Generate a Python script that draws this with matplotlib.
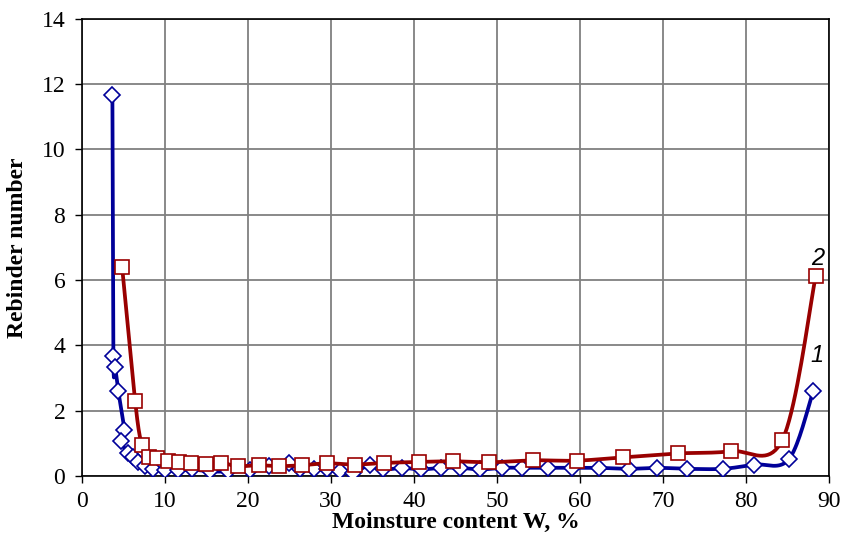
import numpy as np
import matplotlib
matplotlib.use("Agg")
import matplotlib.pyplot as plt

# Series 1 (blue diamonds)
w1 = [3.66, 3.78, 3.98, 4.38, 5.07, 4.67, 5.59, 6.19, 6.79, 7.6, 8.6, 10.0, 11.6, 13.2,
      15.4, 17.6, 20.3, 22.5, 24.9, 26.3, 27.9, 29.5, 31.1, 32.7, 34.7, 36.3, 38.6,
      40.8, 43.2, 45.6, 48.0, 50.6, 53.0, 56.2, 59.1, 62.3, 65.9, 69.3, 72.9, 77.2,
      81.0, 85.2, 88.1]
rb1 = [11.66, 3.68, 3.35, 2.59, 1.42, 1.06, 0.71, 0.58, 0.42, 0.32, 0.22, 0.17, 0.17, 0.20,
       0.14, 0.14, 0.17, 0.30, 0.40, 0.20, 0.20, 0.20, 0.14, 0.09, 0.35, 0.20, 0.25,
       0.20, 0.25, 0.25, 0.20, 0.25, 0.25, 0.25, 0.25, 0.25, 0.22, 0.25, 0.22, 0.22,
       0.35, 0.52, 2.59]

# Series 2 (red squares)
w2 = [4.83, 6.39, 7.2, 8.12, 9.08, 10.41, 11.7, 13.11, 14.92, 16.77, 18.85, 21.27, 23.68,
      26.5, 29.5, 32.9, 36.4, 40.6, 44.7, 49.1, 54.3, 59.6, 65.2, 71.8, 78.2, 84.4, 88.4]
rb2 = [6.40, 2.31, 0.96, 0.58, 0.55, 0.47, 0.42, 0.40, 0.37, 0.40, 0.30, 0.33, 0.30,
       0.33, 0.39, 0.35, 0.40, 0.43, 0.45, 0.42, 0.48, 0.47, 0.57, 0.69, 0.76, 1.11, 6.11]

x_ticks = [0, 10, 20, 30, 40, 50, 60, 70, 80, 90]
y_ticks = [0, 2, 4, 6, 8, 10, 12, 14]
x_label = "Moinsture content W, %"
y_label = "Rebinder number"
series_labels = ["1", "2"]


def smooth(x, y, n=20):
    """Excel-like smoothed line (Catmull-Rom Bezier) through the points."""
    p = np.column_stack([x, y]).astype(float)
    s = np.array([8.29, 32.7])
    q = p * s
    out = [q[0]]
    m = len(q)
    t = np.linspace(0, 1, n)[1:, None]
    for i in range(m - 1):
        p0 = q[i - 1] if i > 0 else q[i]
        p1 = q[i]
        p2 = q[i + 1]
        p3 = q[i + 2] if i + 2 < m else q[i + 1]
        c1 = p1 + (p2 - p0) / 6.0
        c2 = p2 - (p3 - p1) / 6.0
        seg = ((1 - t) ** 3) * p1 + 3 * ((1 - t) ** 2) * t * c1 + 3 * (1 - t) * t ** 2 * c2 + t ** 3 * p2
        out.extend(seg)
    out = np.array(out) / s
    return out[:, 0], out[:, 1]


fig = plt.figure(figsize=(8.43, 5.6), dpi=100)
ax = fig.add_axes([0.0973, 0.15, 0.886, 0.8168])

blue = "#000099"
red = "#990000"

sx, sy = smooth(w1, rb1)
ax.plot(sx, sy, color=blue, lw=2.7, zorder=3, solid_capstyle="round")
ax.plot(w1, rb1, ls="none", marker="D", ms=8, mfc="white", mec=blue, mew=1.2, zorder=4)

sx, sy = smooth(w2, rb2)
ax.plot(sx, sy, color=red, lw=2.7, zorder=5, solid_capstyle="round")
ax.plot(w2, rb2, ls="none", marker="s", ms=10.5, mfc="white", mec=red, mew=1.2, zorder=6)

ax.set_xlim(0, 90)
ax.set_ylim(0, 14)
ax.set_xticks(x_ticks)
ax.set_yticks(y_ticks)
ax.grid(True, color="#808080", lw=1.3, zorder=0)
ax.set_axisbelow(True)
for sp in ax.spines.values():
    sp.set_color("black")
    sp.set_linewidth(1.2)
    sp.set_zorder(2.5)

ax.tick_params(direction="out", length=5, width=1, labelsize=17)
ax.tick_params(axis="x", pad=6)
ax.tick_params(axis="y", pad=7)
for lab in ax.get_xticklabels() + ax.get_yticklabels():
    lab.set_fontfamily("Liberation Serif")

ax.set_xlabel(x_label, fontfamily="Liberation Serif", fontweight="bold", fontsize=17, labelpad=0)
ax.set_ylabel(y_label, fontfamily="Liberation Serif", fontweight="bold", fontsize=17, labelpad=10)

ax.text(88.6, 6.65, series_labels[1], fontfamily="Liberation Sans", style="italic",
        fontsize=17, ha="center", va="center", zorder=7)
ax.text(88.6, 3.7, series_labels[0], fontfamily="Liberation Sans", style="italic",
        fontsize=17, ha="center", va="center", zorder=2.8,
        bbox=dict(facecolor="white", edgecolor="none", pad=3), clip_on=False)

fig.savefig("out.png", dpi=100)
